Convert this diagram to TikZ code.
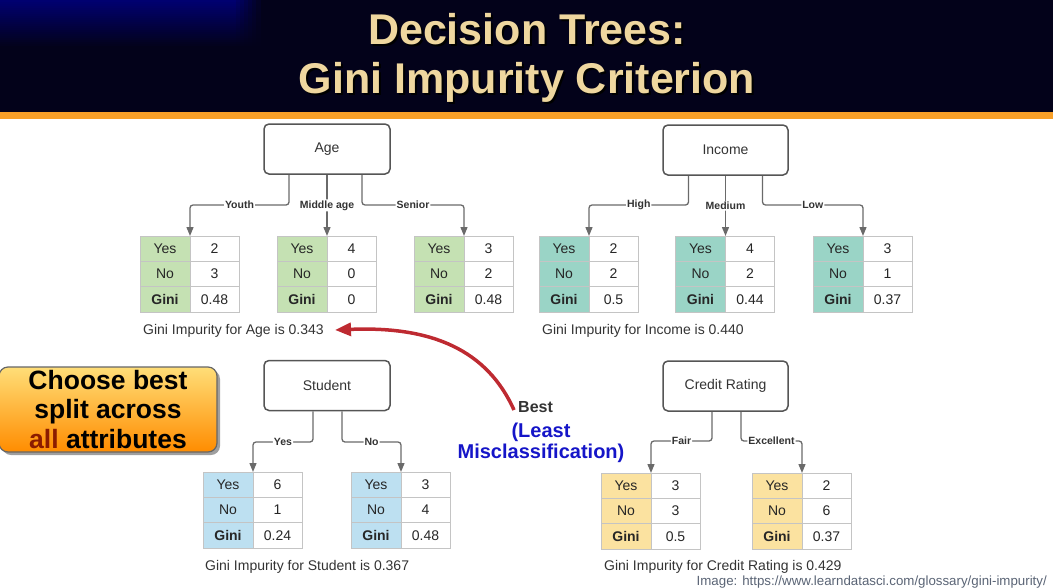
\documentclass[tikz,border=0pt]{standalone}
\usepackage{fontspec}
\setmainfont{Liberation Sans}
\usetikzlibrary{arrows.meta}
\definecolor{hdrdark}{HTML}{03021A}
\definecolor{hdrblue}{HTML}{000070}
\definecolor{titlec}{HTML}{EFD79F}
\definecolor{orangebar}{HTML}{F8A029}
\definecolor{boxc}{HTML}{555555}
\definecolor{connc}{HTML}{6A6A6A}
\definecolor{txt}{HTML}{333333}
\definecolor{cellb}{HTML}{C4C4C4}
\definecolor{cgreen}{HTML}{C5E1B3}
\definecolor{cteal}{HTML}{9AD4C6}
\definecolor{cblue}{HTML}{BDE0F1}
\definecolor{cyellow}{HTML}{FBE2A0}
\definecolor{redarr}{HTML}{BE2A31}
\definecolor{bluec}{HTML}{1515C8}
\definecolor{allred}{HTML}{8B1C00}
\definecolor{captc}{HTML}{5A6475}
\newcommand{\ginitab}[7]{%
  \node[lcell,fill=#4,anchor=north west] (#1a) at (#2,#3) {Yes};
  \node[rcell,anchor=north west] (#1b) at (#1a.north east) {#5};
  \node[lcell,fill=#4,anchor=north west] (#1c) at (#1a.south west) {No};
  \node[rcell,anchor=north west] (#1d) at (#1c.north east) {#6};
  \node[lcell,fill=#4,anchor=north west] (#1e) at (#1c.south west) {\textbf{Gini}};
  \node[rcell,anchor=north west] (#1f) at (#1e.north east) {#7};
}
\begin{document}
\begin{tikzpicture}[x=1pt,y=-1pt,
  attr/.style={draw=boxc, line width=1.5pt, rounded corners=5pt, minimum width=126pt, minimum height=50pt, font=\fontsize{14}{17}\selectfont, text=txt},
  lcell/.style={draw=cellb, line width=0.8pt, minimum width=50pt, minimum height=25.3pt, inner sep=0pt, outer sep=0pt, font=\fontsize{14}{17}\selectfont, text=black!85},
  rcell/.style={lcell, minimum width=49pt, fill=white},
  conn/.style={draw=connc, line width=1.3pt, rounded corners=3pt, -{Triangle[length=9pt,width=7pt]}},
  lbl/.style={fill=white, inner sep=1pt, font=\bfseries\fontsize{10.5}{13}\selectfont, text=txt},
  captext/.style={font=\fontsize{14}{17}\selectfont, text=txt, anchor=west, inner sep=0pt},
  titletext/.style={font=\bfseries\fontsize{43}{50}\selectfont, text=titlec, anchor=base, inner sep=0pt}
]
\useasboundingbox (0,0) rectangle (1053,587);
% header
\fill[hdrdark] (0,0) rectangle (1053,112);
\foreach \i in {0,...,22}{
  \pgfmathsetmacro{\p}{100-\i*100/23}
  \fill[hdrblue!\p!hdrdark] (0,2*\i) rectangle (236,2*\i+2.3);
  \foreach \j in {1,...,6}{
    \pgfmathsetmacro{\q}{\p*(7-\j)/7}
    \fill[hdrblue!\q!hdrdark] (232+4*\j,2*\i) rectangle (236.5+4*\j,2*\i+2.3);
  }
}
\fill[orangebar] (0,112) rectangle (1053,119);
\node[titletext, text=black] (title1s) at (529,46) {Decision Trees:};
\node[titletext, text=black] (title2s) at (529,95) {Gini Impurity Criterion};
\node[titletext] (title1) at (527,44) {Decision Trees:};
\node[titletext] (title2) at (527,93) {Gini Impurity Criterion};

% attribute nodes
\node[attr] (age) at (327,149) {Age};
\node[attr, minimum width=125pt] (income) at (725.5,150) {Income};
\node[attr] (student) at (327,385.5) {Student};
\node[attr, minimum width=125pt] (credit) at (725.5,386) {Credit Rating};

% tables
\ginitab{ta}{140}{236}{cgreen}{2}{3}{0.48}
\ginitab{tb}{277}{236}{cgreen}{4}{0}{0}
\ginitab{tc}{414}{236}{cgreen}{3}{2}{0.48}
\ginitab{ia}{539}{236}{cteal}{2}{2}{0.5}
\ginitab{ib}{675.5}{236}{cteal}{4}{2}{0.44}
\ginitab{ic}{813}{236}{cteal}{3}{1}{0.37}
\ginitab{sa}{203}{472}{cblue}{6}{1}{0.24}
\ginitab{sb}{351}{472}{cblue}{3}{4}{0.48}
\ginitab{ca}{601}{473}{cyellow}{3}{3}{0.5}
\ginitab{cb}{752}{473}{cyellow}{2}{6}{0.37}

% branch levels
\coordinate (ay) at (0,205);
\coordinate (iy) at (0,205);
\coordinate (sy) at (0,442);
\coordinate (cy) at (0,441);

% Age connectors
\draw[conn] ([xshift=-38pt]age.south) -- ([xshift=-38pt]age.south |- ay) -- node[lbl]{Youth} (taa.north east |- ay) -- (taa.north east);
\draw[conn] (age.south) -- node[lbl, pos=0.5]{Middle age} (tba.north east);
\draw[conn] ([xshift=35pt]age.south) -- ([xshift=35pt]age.south |- ay) -- node[lbl]{Senior} (tca.north east |- ay) -- (tca.north east);
% Income connectors
\draw[conn] ([xshift=-37pt]income.south) -- ([xshift=-37pt]income.south |- iy) -- node[lbl]{High} (iaa.north east |- iy) -- (iaa.north east);
\draw[conn] (income.south) -- node[lbl, pos=0.5]{Medium} (iba.north east);
\draw[conn] ([xshift=37pt]income.south) -- ([xshift=37pt]income.south |- iy) -- node[lbl]{Low} (ica.north east |- iy) -- (ica.north east);
% Student connectors
\draw[conn] ([xshift=-14pt]student.south) -- ([xshift=-14pt]student.south |- sy) -- node[lbl]{Yes} (saa.north east |- sy) -- (saa.north east);
\draw[conn] ([xshift=15pt]student.south) -- ([xshift=15pt]student.south |- sy) -- node[lbl]{No} (sba.north east |- sy) -- (sba.north east);
% Credit connectors
\draw[conn] ([xshift=-13.5pt]credit.south) -- ([xshift=-13.5pt]credit.south |- cy) -- node[lbl]{Fair} (caa.north east |- cy) -- (caa.north east);
\draw[conn] ([xshift=15.5pt]credit.south) -- ([xshift=15.5pt]credit.south |- cy) -- node[lbl]{Excellent} (cba.north east |- cy) -- (cba.north east);

% captions
\node[captext] (capage) at (143,331) {Gini Impurity for Age is 0.343};
\node[captext] (capincome) at (542,331) {Gini Impurity for Income is 0.440};
\node[captext] (capstudent) at (205,567) {Gini Impurity for Student is 0.367};
\node[captext] (capcredit) at (604,567) {Gini Impurity for Credit Rating is 0.429};
\node[font=\fontsize{13.3}{16}\selectfont, text=captc, anchor=base east, inner sep=0pt] (source) at (1047,585) {Image: https://www.learndatasci.com/glossary/gini-impurity/};

% choose box
\fill[gray!75, rounded corners=9pt] (2,370) rectangle (220,455);
\node[draw=gray!80!black, line width=1.2pt, rounded corners=9pt, minimum width=218pt, minimum height=85pt,
      top color={rgb,255:red,255;green,222;blue,120}, middle color={rgb,255:red,255;green,200;blue,80}, bottom color={rgb,255:red,255;green,140;blue,0},
      align=center, inner sep=0pt, font=\bfseries\fontsize{26.5}{29.5}\selectfont, text=black] (choose) at (108,409.5)
      {Choose best\\split across\\{\color{allred}all} attributes};

% best
\node[font=\bfseries\fontsize{16}{19}\selectfont, text=txt, anchor=west, inner sep=0pt] (best) at (518,407) {Best};
\node[font=\bfseries\fontsize{20}{21}\selectfont, text=bluec, align=center, inner sep=0pt] (least) at (541,443) {(Least\\Misclassification)};
\coordinate (tip) at (335,330);
\draw[redarr, line width=3.5pt, -{Triangle[length=16pt,width=13pt]}] ([xshift=-4pt,yshift=-3pt]best.west) .. controls (487,350) and (432,326) .. (tip);
\end{tikzpicture}
\end{document}
